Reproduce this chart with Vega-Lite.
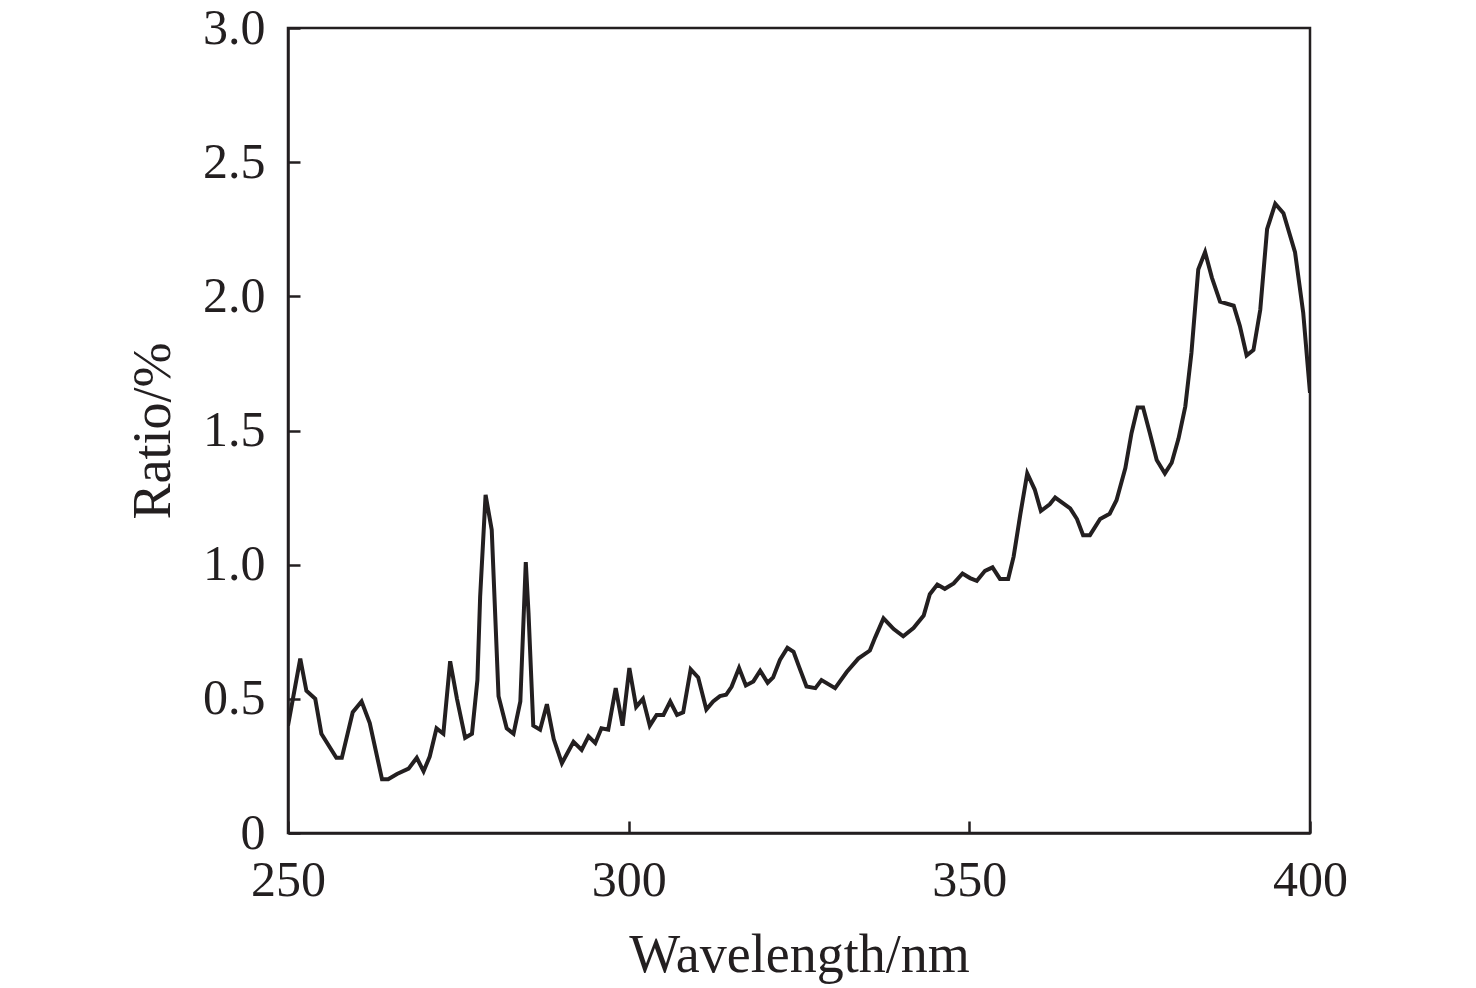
{
  "$schema": "https://vega.github.io/schema/vega-lite/v6.json",
  "width": 1022,
  "height": 805,
  "autosize": {"type": "none"},
  "padding": {"left": 288, "top": 28, "right": 166, "bottom": 155},
  "background": "white",
  "config": {
    "view": {"stroke": "#231f20", "strokeWidth": 2.5},
    "font": "Liberation Serif",
    "axis": {
      "grid": false,
      "domainColor": "#231f20",
      "domainWidth": 2.5,
      "tickColor": "#231f20",
      "tickWidth": 2.5,
      "labelColor": "#231f20",
      "titleColor": "#231f20",
      "labelFont": "Liberation Serif",
      "titleFont": "Liberation Serif",
      "titleFontWeight": "normal"
    }
  },
  "data": {
    "values": [
      {"w": 250, "r": 0.40}, {"w": 251.8, "r": 0.65}, {"w": 252.7, "r": 0.53}, {"w": 254.0, "r": 0.50},
      {"w": 254.9, "r": 0.37}, {"w": 257.1, "r": 0.28}, {"w": 257.9, "r": 0.28}, {"w": 259.5, "r": 0.45},
      {"w": 260.8, "r": 0.49}, {"w": 262.0, "r": 0.41}, {"w": 263.8, "r": 0.20}, {"w": 264.7, "r": 0.20},
      {"w": 266.0, "r": 0.22}, {"w": 267.7, "r": 0.24}, {"w": 268.9, "r": 0.28}, {"w": 269.9, "r": 0.23},
      {"w": 270.8, "r": 0.285}, {"w": 271.8, "r": 0.39}, {"w": 272.8, "r": 0.37}, {"w": 273.8, "r": 0.64},
      {"w": 274.8, "r": 0.50}, {"w": 276.0, "r": 0.355}, {"w": 277.0, "r": 0.37}, {"w": 277.8, "r": 0.57},
      {"w": 278.2, "r": 0.88}, {"w": 279.0, "r": 1.26}, {"w": 279.9, "r": 1.13}, {"w": 280.9, "r": 0.51},
      {"w": 282.1, "r": 0.39}, {"w": 283.1, "r": 0.37}, {"w": 284.1, "r": 0.49}, {"w": 284.9, "r": 1.01},
      {"w": 285.3, "r": 0.82}, {"w": 286.0, "r": 0.40}, {"w": 287.0, "r": 0.385}, {"w": 288.0, "r": 0.48},
      {"w": 289.0, "r": 0.35}, {"w": 290.2, "r": 0.26}, {"w": 291.9, "r": 0.34}, {"w": 293.1, "r": 0.31},
      {"w": 294.1, "r": 0.36}, {"w": 295.1, "r": 0.335}, {"w": 296.0, "r": 0.39}, {"w": 297.0, "r": 0.385},
      {"w": 298.1, "r": 0.54}, {"w": 299.1, "r": 0.40}, {"w": 300.1, "r": 0.615}, {"w": 301.1, "r": 0.47},
      {"w": 302.1, "r": 0.50}, {"w": 303.1, "r": 0.40}, {"w": 304.1, "r": 0.44}, {"w": 305.1, "r": 0.44},
      {"w": 306.1, "r": 0.49}, {"w": 307.1, "r": 0.44}, {"w": 308.0, "r": 0.45}, {"w": 309.1, "r": 0.61},
      {"w": 310.2, "r": 0.58}, {"w": 311.4, "r": 0.46}, {"w": 312.4, "r": 0.49}, {"w": 313.4, "r": 0.51},
      {"w": 314.3, "r": 0.515}, {"w": 315.1, "r": 0.545}, {"w": 316.2, "r": 0.615}, {"w": 317.2, "r": 0.55},
      {"w": 318.3, "r": 0.565}, {"w": 319.3, "r": 0.605}, {"w": 320.4, "r": 0.56}, {"w": 321.2, "r": 0.58},
      {"w": 322.2, "r": 0.645}, {"w": 323.3, "r": 0.69}, {"w": 324.2, "r": 0.675}, {"w": 325.0, "r": 0.62},
      {"w": 326.1, "r": 0.546}, {"w": 327.4, "r": 0.54}, {"w": 328.3, "r": 0.57}, {"w": 330.3, "r": 0.54},
      {"w": 332.0, "r": 0.60}, {"w": 333.7, "r": 0.65}, {"w": 335.4, "r": 0.68}, {"w": 336.2, "r": 0.73},
      {"w": 337.4, "r": 0.80}, {"w": 338.9, "r": 0.76}, {"w": 340.3, "r": 0.733}, {"w": 341.8, "r": 0.764},
      {"w": 343.3, "r": 0.81}, {"w": 344.2, "r": 0.89}, {"w": 345.3, "r": 0.926}, {"w": 346.4, "r": 0.91},
      {"w": 347.7, "r": 0.93}, {"w": 349.0, "r": 0.967}, {"w": 350.1, "r": 0.95}, {"w": 351.1, "r": 0.94},
      {"w": 352.3, "r": 0.977}, {"w": 353.4, "r": 0.99}, {"w": 354.5, "r": 0.947}, {"w": 355.7, "r": 0.947},
      {"w": 356.5, "r": 1.03}, {"w": 357.5, "r": 1.19}, {"w": 358.5, "r": 1.34}, {"w": 359.6, "r": 1.28},
      {"w": 360.5, "r": 1.20}, {"w": 361.8, "r": 1.225}, {"w": 362.6, "r": 1.25}, {"w": 364.8, "r": 1.21},
      {"w": 365.8, "r": 1.17}, {"w": 366.7, "r": 1.11}, {"w": 367.7, "r": 1.11}, {"w": 369.2, "r": 1.17},
      {"w": 370.6, "r": 1.19}, {"w": 371.6, "r": 1.24}, {"w": 372.9, "r": 1.36}, {"w": 373.8, "r": 1.49},
      {"w": 374.7, "r": 1.586}, {"w": 375.5, "r": 1.586}, {"w": 376.5, "r": 1.49}, {"w": 377.5, "r": 1.39},
      {"w": 378.7, "r": 1.34}, {"w": 379.7, "r": 1.38}, {"w": 380.7, "r": 1.47}, {"w": 381.7, "r": 1.59},
      {"w": 382.6, "r": 1.79}, {"w": 383.6, "r": 2.10}, {"w": 384.6, "r": 2.165}, {"w": 385.6, "r": 2.07},
      {"w": 386.8, "r": 1.98}, {"w": 388.8, "r": 1.965}, {"w": 389.7, "r": 1.89}, {"w": 390.7, "r": 1.78},
      {"w": 391.7, "r": 1.80}, {"w": 392.7, "r": 1.95}, {"w": 393.7, "r": 2.25}, {"w": 394.9, "r": 2.345},
      {"w": 396.1, "r": 2.31}, {"w": 397.8, "r": 2.165}, {"w": 399.0, "r": 1.94}, {"w": 400.0, "r": 1.64}
    ]
  },
  "mark": {"type": "line", "color": "#231f20", "strokeWidth": 4, "clip": true},
  "encoding": {
    "x": {
      "field": "w",
      "type": "quantitative",
      "scale": {"domain": [250, 400], "nice": false, "zero": false},
      "axis": {
        "values": [250, 300, 350, 400],
        "title": "Wavelength/nm",
        "labelFontSize": 50,
        "titleFontSize": 54,
        "tickSize": -12,
        "labelPadding": 34,
        "titlePadding": 23,
        "labelFlush": false
      }
    },
    "y": {
      "field": "r",
      "type": "quantitative",
      "scale": {"domain": [0, 3], "nice": false},
      "axis": {
        "values": [0, 0.5, 1, 1.5, 2, 2.5, 3],
        "labelExpr": "datum.value == 0 ? '0' : format(datum.value, '.1f')",
        "title": "Ratio/%",
        "labelFontSize": 50,
        "titleFontSize": 54,
        "tickSize": -12,
        "labelPadding": 35,
        "titlePadding": 22,
        "labelFlush": false
      }
    }
  }
}
